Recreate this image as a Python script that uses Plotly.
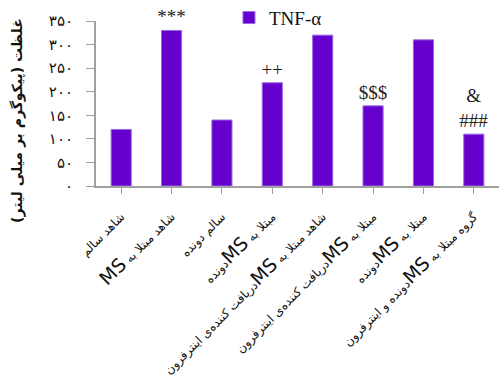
import plotly.graph_objects as go

# label pieces: (persian part before MS, "MS", persian part after MS) in reading order
label_parts = [
    ("شاهد سالم", None, None),
    ("شاهد مبتلا به", "MS", ""),
    ("سالم دونده", None, None),
    ("مبتلا به", "MS", "دونده"),
    ("شاهد مبتلا به", "MS", "دریافت کننده‌ی اینترفرون"),
    ("مبتلا به", "MS", "دریافت کننده‌ی اینترفرون"),
    ("مبتلا به", "MS", "دونده"),
    ("گروه مبتلا به", "MS", "دونده و اینترفرون"),
]
values = [120, 330, 140, 219, 320, 170, 310, 110]
sig_labels = ["", "***", "", "++", "", "$$$", "", "&<br>###"]
tick_vals = [0, 50, 100, 150, 200, 250, 300, 350]
tick_text = ["۰", "۵۰", "۱۰۰", "۱۵۰", "۲۰۰", "۲۵۰", "۳۰۰", "۳۵۰"]
series_name = "TNF-α"
y_title = "غلظت (پیکوگرم بر میلی لیتر)"

def make_label(p):
    right, ms, left = p
    if ms is None:
        return right
    return ("\u202b" + right + " " + "<span style='font-size:19px'>" + ms
            + "</span>" + left + "\u202c")

ticktext_x = [make_label(p) for p in label_parts]
xs = list(range(len(values)))

fig = go.Figure()
fig.add_trace(go.Bar(
    x=xs, y=values, name=series_name,
    marker=dict(color="#6600CC", line=dict(color="#9a6ae6", width=1)),
    width=0.4,
    text=sig_labels, textposition="outside", constraintext="none",
    textfont=dict(family="Liberation Serif, serif", size=19, color="#222222"),
    cliponaxis=False,
))

fig.update_layout(
    width=499, height=376,
    margin=dict(l=96, r=0, t=21, b=190, autoexpand=False),
    paper_bgcolor="white", plot_bgcolor="white",
    showlegend=True,
    legend=dict(x=0.33, y=1.02, xanchor="left", yanchor="middle",
                font=dict(family="Liberation Serif, serif", size=19, color="#111111"),
                bgcolor="rgba(0,0,0,0)", itemwidth=30),
    uniformtext=dict(mode=False),
)
fig.update_xaxes(
    tickmode="array", tickvals=xs, ticktext=ticktext_x,
    tickangle=-45, tickson="boundaries",
    ticks="outside", ticklen=6, tickcolor="#a0a0a0", tickwidth=1,
    showline=True, linecolor="#a0a0a0", linewidth=2,
    showgrid=False, range=[-0.5, 7.5],
    ticklabelstandoff=11,
    tickfont=dict(family="DejaVu Sans, sans-serif", size=12, color="#111111"),
)
fig.update_yaxes(
    range=[0, 350], tickmode="array", tickvals=tick_vals, ticktext=tick_text,
    ticks="outside", ticklen=8, tickcolor="#a0a0a0", tickwidth=1,
    showline=True, linecolor="#a0a0a0", linewidth=2,
    showgrid=False, zeroline=False,
    ticklabelstandoff=10,
    tickfont=dict(family="DejaVu Sans, sans-serif", size=15, color="#111111"),
)
fig.add_annotation(
    text="<b>" + y_title + "</b>", textangle=-90,
    xref="paper", yref="paper", x=-0.195, y=0.5, yshift=-17,
    xanchor="center", yanchor="middle", showarrow=False,
    font=dict(family="DejaVu Sans, sans-serif", size=14, color="#111111"),
)
fig.write_html("out.html")
